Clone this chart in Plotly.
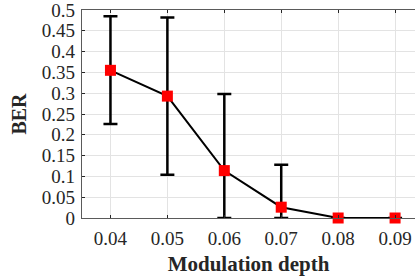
import plotly.graph_objects as go

depth = [0.04, 0.05, 0.06, 0.07, 0.08, 0.09]
ber = [0.355, 0.293, 0.114, 0.026, 0.0, 0.0]
err_plus = [0.130, 0.189, 0.184, 0.102, 0.0, 0.0]
err_minus = [0.129, 0.189, 0.114, 0.026, 0.0, 0.0]
x_ticks = [0.04, 0.05, 0.06, 0.07, 0.08, 0.09]
x_tick_labels = ["0.04", "0.05", "0.06", "0.07", "0.08", "0.09"]
y_ticks = [0, 0.05, 0.1, 0.15, 0.2, 0.25, 0.3, 0.35, 0.4, 0.45, 0.5]
y_tick_labels = ["0", "0.05", "0.1", "0.15", "0.2", "0.25", "0.3", "0.35", "0.4", "0.45", "0.5"]

fig = go.Figure()
fig.add_trace(go.Scatter(
    x=depth, y=ber, mode="lines+markers",
    line=dict(color="black", width=2),
    marker=dict(symbol="square", size=11, color="#ff0000", line=dict(width=0)),
    error_y=dict(type="data", symmetric=False, array=err_plus, arrayminus=err_minus,
                 color="black", thickness=2.5, width=7),
    cliponaxis=False,
))

font_family = "Liberation Serif, Times New Roman, serif"
fig.update_layout(
    width=415, height=280,
    margin=dict(l=82, r=0, t=10, b=62, autoexpand=False),
    paper_bgcolor="white", plot_bgcolor="white",
    showlegend=False,
    font=dict(family=font_family, size=19, color="#262626"),
    xaxis=dict(
        range=[0.035, 0.0935],
        tickvals=x_ticks, ticktext=x_tick_labels,
        showgrid=True, gridcolor="#e3e3e3", gridwidth=1,
        showline=True, linecolor="#5a5a5a", linewidth=1.2, mirror="ticks",
        ticks="inside", ticklen=3, tickcolor="#262626",
        ticklabelstandoff=3, ticklabeloverflow="allow",
        zeroline=False, automargin=False,
        title=dict(text="<b>Modulation depth</b>", font=dict(size=21, color="#262626"), standoff=8),
    ),
    yaxis=dict(
        range=[0, 0.5],
        tickvals=y_ticks, ticktext=y_tick_labels,
        showgrid=True, gridcolor="#e3e3e3", gridwidth=1,
        showline=True, linecolor="#5a5a5a", linewidth=1.2, mirror=False,
        ticks="inside", ticklen=3, tickcolor="#262626",
        ticklabelstandoff=2, ticklabeloverflow="allow",
        zeroline=False, automargin=False,
        title=dict(text="<b>BER</b>", font=dict(size=20, color="#262626"), standoff=9),
    ),
)

fig.write_html("out.html", config={"displayModeBar": False},
               post_script="document.body.style.margin='0px';")
